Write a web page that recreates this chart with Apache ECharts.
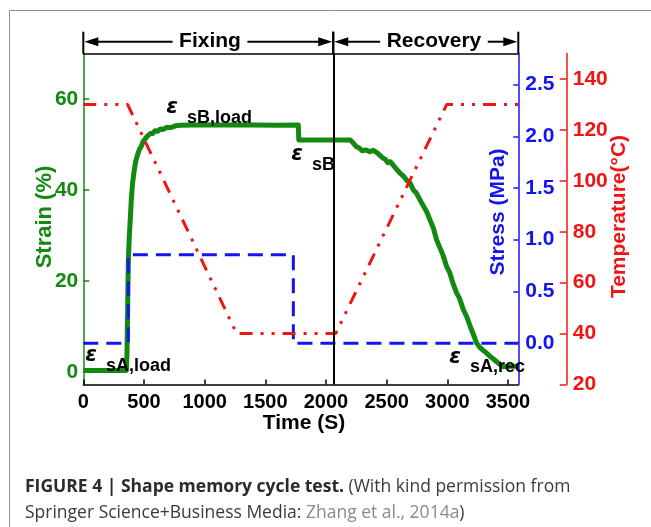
<!DOCTYPE html>
<html><head><meta charset="utf-8">
<script src="https://cdn.jsdelivr.net/npm/echarts@6/dist/echarts.min.js"></script>
<style>html,body{margin:0;padding:0;background:#fff}#c{width:651px;height:527px}</style>
</head><body><div id="c"></div>
<script>
// ---------- data ----------
const timeTicks = [0, 500, 1000, 1500, 2000, 2500, 3000, 3500];
const strainTicks = [0, 20, 40, 60];
const stressTicks = [0, 0.5, 1.0, 1.5, 2.0, 2.5];
const tempTicks = [20, 40, 60, 80, 100, 120, 140];

// strain (%) vs time (s)
const strainData = [
  [0,0.3],[120,0.3],[240,0.3],[355,0.3],[360,4],[364,11],[368,19],[372,25],[378,29],[386,33],
  [396,38],[406,41.5],[418,44],[432,46.3],[446,47.6],[462,48.9],[478,49.6],[492,50.6],[506,50.9],
  [520,51.6],[536,51.7],[552,52.4],[570,52.4],[590,53.0],[612,52.9],[636,53.4],[660,53.3],
  [690,53.8],[720,53.7],[760,54.1],[800,54.2],[900,54.3],[1100,54.3],[1400,54.3],[1600,54.2],
  [1772,54.3],[1776,51.0],[1900,51.0],[2100,51.0],[2200,51.0],[2225,50.3],[2250,49.5],[2275,49.2],
  [2300,48.6],[2330,48.8],[2360,48.4],[2390,48.7],[2420,48.2],[2445,47.6],[2470,47.0],[2490,46.7],
  [2510,46.0],[2530,46.2],[2555,45.4],[2580,44.6],[2610,43.7],[2640,43.0],[2665,42.1],[2693,41.5],
  [2720,40.0],[2745,39.3],[2775,37.8],[2800,36.6],[2830,35.2],[2857,33.4],[2885,31.6],[2912,29.0],
  [2940,27.2],[2965,25.6],[2995,23.1],[3020,21.8],[3050,19.2],[3077,17.3],[3100,16.2],[3130,13.8],
  [3160,12.1],[3190,9.9],[3215,8.2],[3242,6.3],[3270,5.3],[3300,4.6],[3325,4.1],[3350,3.4],
  [3380,2.8],[3407,2.2],[3435,1.6],[3462,1.1],[3500,1.2],[3585,1.2]
];
// stress (MPa) vs time
const stressData = [[0,0],[371,0],[371,0.855],[1731,0.855],[1731,0],[3585,0]];
// temperature (°C) vs time
const tempData = [[0,130],[365,130],[1264,40],[2080,40],[2995,130],[3585,130]];

const switchTime = 2060;
const timeMax = 3585;
const phases = [
  {name: 'Fixing', from: 0, to: 2060, mid: 1044},
  {name: 'Recovery', from: 2060, to: 3585, mid: 2890}
];
// annotation anchors (time, strain) of the subscript text
const annotations = [
  {t: 187, s: 1.3, sub: 'sA,load'},
  {t: 855, s: 55.9, sub: 'sB,load'},
  {t: 1885, s: 45.5, sub: 'sB'},
  {t: 3187, s: 1.0, sub: 'sA,rec'}
];

// ---------- styles ----------
const FONT = '"Liberation Sans", Arial, Helvetica, sans-serif';
const GREEN = '#128a12', BLUE = '#1414f0', RED = '#f21414';

const chart = echarts.init(document.getElementById('c'), null, {renderer: 'canvas'});

const lbl = (color, size) => ({color: color, fontFamily: FONT, fontWeight: 'bold', fontSize: size});

const option = {
  animation: false,
  backgroundColor: '#fff',
  grid: {left: 83.3, top: 53.5, width: 435, height: 331, containLabel: false},
  xAxis: [{
    type: 'value', min: 0, max: timeMax, position: 'bottom',
    axisLine: {show: true, onZero: false, lineStyle: {color: '#000', width: 1.5}},
    axisTick: {show: true, inside: true, length: 5, lineStyle: {color: '#000', width: 1.5}, customValues: timeTicks},
    axisLabel: Object.assign({margin: 8, customValues: timeTicks, formatter: v => String(v)}, lbl('#000', 20)),
    splitLine: {show: false}
  }, {
    type: 'value', min: 0, max: timeMax, position: 'top',
    axisLine: {show: true, onZero: false, lineStyle: {color: '#000', width: 1.5}},
    axisTick: {show: false}, axisLabel: {show: false}, splitLine: {show: false}
  }],
  yAxis: [{
    type: 'value', min: -2.8, max: 70, position: 'left',
    axisLine: {show: true, onZero: false, lineStyle: {color: GREEN, width: 1.5}},
    axisTick: {show: true, inside: true, length: 6, lineStyle: {color: GREEN, width: 1.5}, customValues: strainTicks},
    axisLabel: Object.assign({margin: 5, customValues: strainTicks}, lbl(GREEN, 21)),
    splitLine: {show: false}
  }, {
    type: 'value', min: -0.4, max: 2.8, position: 'right',
    axisLine: {show: true, onZero: false, lineStyle: {color: BLUE, width: 1.5}},
    axisTick: {show: true, inside: true, length: 5, lineStyle: {color: BLUE, width: 1.5}, customValues: stressTicks},
    axisLabel: Object.assign({margin: 7, customValues: stressTicks, formatter: v => Number(v).toFixed(1)}, lbl(BLUE, 21)),
    splitLine: {show: false}
  }, {
    type: 'value', min: 20, max: 150, position: 'right', offset: 48.4,
    axisLine: {show: true, onZero: false, lineStyle: {color: RED, width: 1.5}},
    axisTick: {show: true, inside: true, length: 7, lineStyle: {color: RED, width: 1.5}, customValues: tempTicks},
    axisLabel: Object.assign({margin: 6, customValues: tempTicks}, lbl(RED, 21)),
    splitLine: {show: false}
  }],
  series: [{
    type: 'line', name: 'Strain', xAxisIndex: 0, yAxisIndex: 0, data: strainData,
    showSymbol: false, symbol: 'none', z: 2,
    lineStyle: {color: GREEN, width: 5, join: 'round'}
  }, {
    type: 'line', name: 'Stress', xAxisIndex: 0, yAxisIndex: 1, data: stressData,
    showSymbol: false, symbol: 'none', z: 3,
    lineStyle: {color: BLUE, width: 3, type: [15, 8]}
  }, {
    type: 'line', name: 'Temperature', xAxisIndex: 0, yAxisIndex: 2, data: tempData,
    showSymbol: false, symbol: 'none', z: 4,
    lineStyle: {color: RED, width: 3, type: [13, 8, 3, 8, 3, 8]},
    markLine: {
      silent: true, symbol: ['none', 'none'], label: {show: false}, z: 6,
      lineStyle: {color: '#000', width: 2, type: 'solid'},
      data: [{xAxis: switchTime}]
    }
  }]
};
chart.setOption(option);

// ---------- annotations / frame ----------
const px = (t, s) => chart.convertToPixel({xAxisIndex: 0, yAxisIndex: 0}, [t, s]);
const gridTop = 53.5;
const arrowY = 41.7, barTop = 31.7;
const measure = (txt, font) => {
  const c = document.createElement('canvas').getContext('2d');
  c.font = font; return c.measureText(txt).width;
};
const g = [];
// gray frame
g.push({type: 'polyline', silent: true, z: 1,
  shape: {points: [[9.5, 527], [9.5, 10.5], [651, 10.5]]},
  style: {stroke: '#8f8f8f', lineWidth: 1, fill: null}});

phases.forEach((p, i) => {
  const xa = px(p.from, 0)[0], xb = px(p.to, 0)[0], xc = px(p.mid, 0)[0];
  const hw = measure(p.name, 'bold 21px ' + FONT) / 2 + 6.5;
  const L = 14, H = 4.5;
  [xa, xb].forEach(x => g.push({type: 'line', silent: true, z: 10,
    shape: {x1: x, y1: barTop, x2: x, y2: gridTop}, style: {stroke: '#000', lineWidth: 2}}));
  g.push({type: 'line', silent: true, z: 10, shape: {x1: xa + L - 1, y1: arrowY, x2: xc - hw, y2: arrowY}, style: {stroke: '#000', lineWidth: 2}});
  g.push({type: 'line', silent: true, z: 10, shape: {x1: xc + hw, y1: arrowY, x2: xb - L + 1, y2: arrowY}, style: {stroke: '#000', lineWidth: 2}});
  g.push({type: 'polygon', silent: true, z: 10, shape: {points: [[xa + 1, arrowY], [xa + 1 + L, arrowY - H], [xa + 1 + L, arrowY + H]]}, style: {fill: '#000'}});
  g.push({type: 'polygon', silent: true, z: 10, shape: {points: [[xb - 1, arrowY], [xb - 1 - L, arrowY - H], [xb - 1 - L, arrowY + H]]}, style: {fill: '#000'}});
  g.push({type: 'text', silent: true, z: 10, x: xc, y: arrowY,
    style: {text: p.name, fill: '#000', font: 'bold 21px ' + FONT, textAlign: 'center', textVerticalAlign: 'middle'}});
});

annotations.forEach(a => {
  const [x, y] = px(a.t, a.s);
  g.push({type: 'text', silent: true, z: 12, x: x - 15, y: y - 10,
    style: {text: 'ε', fill: '#000', font: 'italic bold 21px "DejaVu Sans", ' + FONT, textAlign: 'center', textVerticalAlign: 'middle'}});
  g.push({type: 'text', silent: true, z: 12, x: x, y: y,
    style: {text: a.sub, fill: '#000', font: 'bold 18px ' + FONT, textAlign: 'left', textVerticalAlign: 'middle'}});
});

// axis names
g.push({type: 'text', silent: true, z: 10, x: 304, y: 423,
  style: {text: 'Time (S)', fill: '#000', font: 'bold 21px ' + FONT, textAlign: 'center', textVerticalAlign: 'middle'}});
g.push({type: 'text', silent: true, z: 10, x: 45, y: 217, rotation: Math.PI / 2,
  style: {text: 'Strain (%)', fill: GREEN, font: 'bold 22px ' + FONT, textAlign: 'center', textVerticalAlign: 'middle'}});
g.push({type: 'text', silent: true, z: 10, x: 498, y: 212, rotation: Math.PI / 2,
  style: {text: 'Stress (MPa)', fill: BLUE, font: 'bold 21px ' + FONT, textAlign: 'center', textVerticalAlign: 'middle'}});
g.push({type: 'text', silent: true, z: 10, x: 619, y: 216.5, rotation: Math.PI / 2,
  style: {text: 'Temperature(°C)', fill: RED, font: 'bold 21px ' + FONT, textAlign: 'center', textVerticalAlign: 'middle'}});

// caption
g.push({type: 'text', silent: true, z: 10, x: 25, y: 474,
  style: {
    text: '{b|FIGURE 4 | Shape memory cycle test.}{n| (With kind permission from}\n{n|Springer Science+Business Media: }{g|Zhang et al., 2014a}{n|)}',
    textAlign: 'left', textVerticalAlign: 'top',
    rich: {
      b: {fill: '#2b2b2b', fontFamily: '"Open Sans", ' + FONT, fontWeight: 'bold', fontSize: 17.5, lineHeight: 26},
      n: {fill: '#3a3a3a', fontFamily: '"Open Sans", ' + FONT, fontSize: 17.5, lineHeight: 26},
      g: {fill: '#8a8a8a', fontFamily: '"Open Sans", ' + FONT, fontSize: 17.5, lineHeight: 26}
    }
  }});

chart.setOption({graphic: {elements: g}});
</script>
</body></html>
